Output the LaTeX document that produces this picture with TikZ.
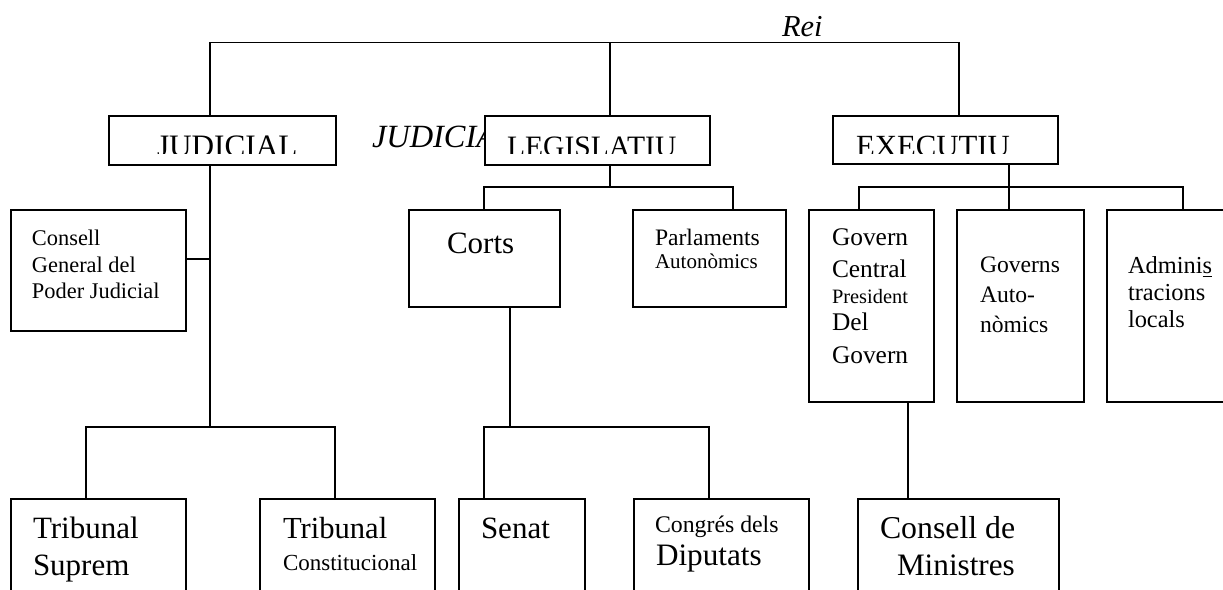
\documentclass[tikz,border=0pt]{standalone}
\usepackage{fontspec}
\setmainfont{Liberation Serif}
\newcommand{\fsz}[1]{\fontsize{#1pt}{#1pt}\selectfont}
\begin{document}
\begin{tikzpicture}[x=0.5pt,y=-0.5pt,
  box/.style={draw, line width=1pt, fill=white, rectangle, inner sep=0pt, outer sep=0pt, anchor=north west},
  conn/.style={line width=0.7pt},
  lbl/.style={anchor=base west, inner sep=0pt, outer sep=0pt}]
\useasboundingbox (0,0) rectangle (1223,590);
\clip (0,0) rectangle (1223,590);

% floating italic texts
\node[lbl, font=\fsz{15.2}\itshape] (rei) at (782,36) {Rei};
\node[lbl, font=\fsz{16.2}\itshape] (judit) at (372,147) {JUDICIAL};

% bus coordinates
\coordinate (busL) at (210,42.7);
\coordinate (busM) at (610,42.7);
\coordinate (busR) at (959,42.7);
\coordinate (jb) at (210,427);
\coordinate (jbL) at (86,427);
\coordinate (jbR) at (335,427);
\coordinate (lb) at (610,187);
\coordinate (lbL) at (484,187);
\coordinate (lbR) at (733,187);
\coordinate (cb) at (510,427);
\coordinate (cbL) at (484,427);
\coordinate (cbR) at (709,427);
\coordinate (eb) at (1009,187);
\coordinate (ebL) at (859,187);
\coordinate (ebR) at (1183,187);
\coordinate (gb) at (908,499);

% boxes
\node[box, minimum width=113.5pt, minimum height=24.5pt] (judicial) at (109,116) {};
\node[box, minimum width=112.5pt, minimum height=24.5pt] (legis) at (485,116) {};
\node[box, minimum width=112.5pt, minimum height=24pt] (exec) at (833,116) {};
\node[box, minimum width=87.5pt, minimum height=60.5pt] (cgpj) at (11,210) {};
\node[box, minimum width=75.5pt, minimum height=48.5pt] (corts) at (409,210) {};
\node[box, minimum width=76.5pt, minimum height=48.5pt] (parl) at (633,210) {};
\node[box, minimum width=62.5pt, minimum height=96pt] (govc) at (809,210) {};
\node[box, minimum width=63.5pt, minimum height=96pt] (gova) at (957,210) {};
\node[box, minimum width=65pt, minimum height=96pt] (adm) at (1107,210) {};
\node[box, minimum width=87.5pt, minimum height=55pt] (ts) at (11,499) {};
\node[box, minimum width=87.5pt, minimum height=55pt] (tc) at (260,499) {};
\node[box, minimum width=63pt, minimum height=55pt] (sen) at (459,499) {};
\node[box, minimum width=87.5pt, minimum height=55pt] (cong) at (634,499) {};
\node[box, minimum width=100.5pt, minimum height=55pt] (cmin) at (858,499) {};

% connectors
\draw[conn] (busL |- judicial.north) |- (busR) -- (busR |- exec.north);
\draw[conn] (busM) -- (busM |- legis.north);
\draw[conn] (busL |- judicial.south) -- (jb);
\path ([yshift=5.75pt]cgpj.east) coordinate (cgc);
\draw[conn] (cgc) -- (cgc -| jb);
\draw[conn] (jbL |- ts.north) |- (jbR) -- (jbR |- tc.north);
\draw[conn] (lb |- legis.south) -- (lb);
\draw[conn] (lbL |- corts.north) |- (lbR) -- (lbR |- parl.north);
\draw[conn] (cb |- corts.south) -- (cb);
\draw[conn] (cbL |- sen.north) |- (cbR) -- (cbR |- cong.north);
\draw[conn] (eb |- exec.south) -- (eb);
\draw[conn] (ebL |- govc.north) |- (ebR) -- (ebR |- adm.north);
\draw[conn] (eb) -- (eb |- gova.north);
\draw[conn] (gb |- govc.south) -- (gb |- cmin.north);

% clipped headings
\begin{scope}
\clip (100,120) rectangle (1100,153.3);
\node[lbl, font=\fsz{15.6}] (tjud) at (157,156) {JUDICIAL};
\node[lbl, font=\fsz{14.8}] (tleg) at (507,156) {LEGISLATIU};
\node[lbl, font=\fsz{15.4}] (texe) at (856,156) {EXECUTIU};
\end{scope}

% box texts
\node[lbl, font=\fsz{11.2}] (cg1) at (32,245) {Consell};
\node[lbl, font=\fsz{11.2}] (cg2) at (32,272) {General del};
\node[lbl, font=\fsz{11.2}] (cg3) at (32,298) {Poder Judicial};

\node[lbl, font=\fsz{15.5}] (tcorts) at (447,253) {Corts};

\node[lbl, font=\fsz{11.8}] (pa1) at (655,245) {Parlaments};
\node[lbl, font=\fsz{10.5}] (pa2) at (655,268) {Autonòmics};

\node[lbl, font=\fsz{12.7}] (gc1) at (832,245) {Govern};
\node[lbl, font=\fsz{12.7}] (gc2) at (832,277) {Central};
\node[lbl, font=\fsz{10.2}] (gc3) at (832,303) {President};
\node[lbl, font=\fsz{12.7}] (gc4) at (832,330) {Del};
\node[lbl, font=\fsz{12.7}] (gc5) at (832,363) {Govern};

\node[lbl, font=\fsz{11.8}] (ga1) at (980,272) {Governs};
\node[lbl, font=\fsz{11.8}] (ga2) at (980,302) {Auto-};
\node[lbl, font=\fsz{11.8}] (ga3) at (980,332) {nòmics};

\node[lbl, font=\fsz{12.2}] (ad1) at (1128,273) {Admini\underline{s}};
\node[lbl, font=\fsz{12.2}] (ad2) at (1128,300) {tracions};
\node[lbl, font=\fsz{12.2}] (ad3) at (1128,327) {locals};

\node[lbl, font=\fsz{15.5}] (ts1) at (33,538) {Tribunal};
\node[lbl, font=\fsz{15.5}] (ts2) at (33,575) {Suprem};

\node[lbl, font=\fsz{15.3}] (tc1) at (283,538) {Tribunal};
\node[lbl, font=\fsz{11.5}] (tc2) at (283,570) {Constitucional};

\node[lbl, font=\fsz{15.5}] (se1) at (481,538) {Senat};

\node[lbl, font=\fsz{11.9}] (co1) at (655,532) {Congrés dels};
\node[lbl, font=\fsz{15.6}] (co2) at (656,565) {Diputats};

\node[lbl, font=\fsz{15.9}] (cm1) at (880,538) {Consell de};
\node[lbl, font=\fsz{15.6}] (cm2) at (897,575) {Ministres};
\end{tikzpicture}
\end{document}
